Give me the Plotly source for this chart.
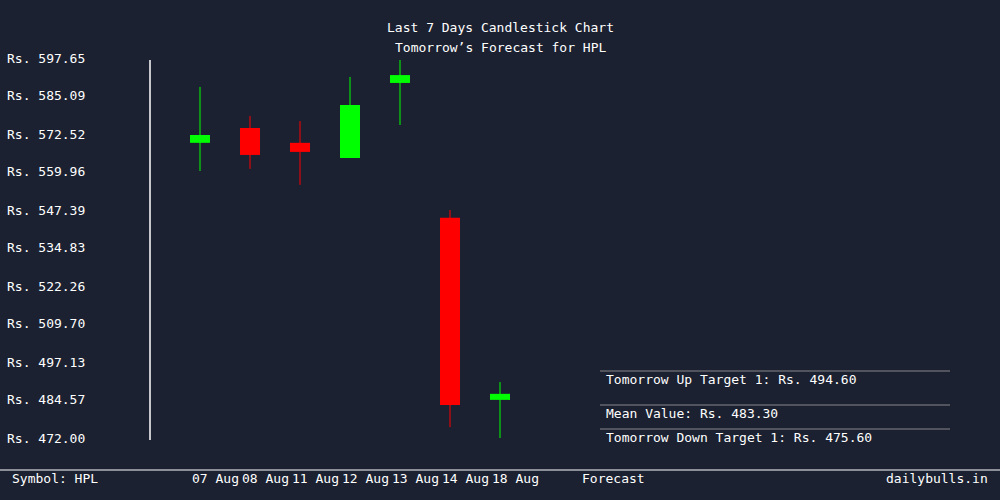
import plotly.graph_objects as go

# candle data
dates = ["07 Aug", "08 Aug", "11 Aug", "12 Aug", "13 Aug", "14 Aug", "18 Aug"]
opens = [569.6, 574.5, 569.6, 564.6, 589.4, 544.8, 484.6]
closes = [572.2, 565.6, 566.6, 582.1, 592.0, 482.9, 486.6]
highs = [588.1, 578.5, 576.8, 591.4, 597.0, 547.4, 490.5]
lows = [560.3, 561.0, 555.7, 564.6, 575.5, 475.6, 471.3]
ytick_vals = [472.00, 484.57, 497.13, 509.70, 522.26, 534.83, 547.39, 559.96, 572.52, 585.09, 597.65]
forecast_lines = ["Tomorrow Up Target 1: Rs. 494.60", "Mean Value: Rs. 483.30", "Tomorrow Down Target 1: Rs. 475.60"]

BG = "#1b2130"
GREEN = "#00ff00"
RED = "#ff0000"
FONT = "DejaVu Sans Mono"
FS = 13

W, H = 1000, 500
L, T, B = 150, 58, 62
PW, PH = W - L, H - T - B


def px(x):
    return (x - L) / PW


def py(y):
    return (H - B - y) / PH


fig = go.Figure()
xs = list(range(len(dates)))
colors = [GREEN if c >= o else RED for o, c in zip(opens, closes)]

for i in xs:
    fig.add_trace(go.Scatter(x=[i, i], y=[lows[i], highs[i]], mode="lines",
                             line=dict(color=colors[i], width=1), hoverinfo="skip"))
fig.add_trace(go.Bar(x=xs, base=[min(o, c) for o, c in zip(opens, closes)],
                     y=[abs(c - o) for o, c in zip(opens, closes)],
                     width=0.4, marker=dict(color=colors, line=dict(width=0))))

anns = []
for v in ytick_vals:
    anns.append(dict(x=px(5), xref="paper", y=v, yref="y", text=f"Rs. {v:.2f}",
                     xanchor="left", showarrow=False, font=dict(size=FS)))
for i, d in enumerate(dates):
    anns.append(dict(x=i - 0.2, xref="x", y=py(488), yref="paper", text=d,
                     xanchor="left", showarrow=False, font=dict(size=FS)))
anns.append(dict(x=px(10), xref="paper", y=py(488), yref="paper", text="Symbol: HPL",
                 xanchor="left", showarrow=False, font=dict(size=FS)))
anns.append(dict(x=px(580), xref="paper", y=py(488), yref="paper", text="Forecast",
                 xanchor="left", showarrow=False, font=dict(size=FS)))
anns.append(dict(x=px(990), xref="paper", y=py(488), yref="paper", text="dailybulls.in",
                 xanchor="right", showarrow=False, font=dict(size=FS)))
for txt, yy in zip(forecast_lines, [389, 423, 447]):
    anns.append(dict(x=px(604), xref="paper", y=py(yy), yref="paper", text=txt,
                     xanchor="left", showarrow=False, font=dict(size=FS)))
anns.append(dict(x=px(500), xref="paper", y=py(18), yref="paper",
                 text="Last 7 Days Candlestick Chart", showarrow=False, font=dict(size=FS)))
anns.append(dict(x=px(500), xref="paper", y=py(38), yref="paper",
                 text="Tomorrow’s Forecast for HPL", showarrow=False, font=dict(size=FS)))

shapes = [dict(type="line", xref="paper", yref="paper", x0=px(0), x1=px(1000),
               y0=py(470), y1=py(470), line=dict(color="white", width=1))]
for yy in [371, 405, 429]:
    shapes.append(dict(type="line", xref="paper", yref="paper", x0=px(600), x1=px(950),
                       y0=py(yy), y1=py(yy), line=dict(color="#888888", width=1)))
shapes.append(dict(type="line", xref="paper", yref="paper", x0=0, x1=0,
                   y0=py(440), y1=py(60), line=dict(color="white", width=1.5)))

fig.update_layout(
    width=W, height=H, margin=dict(l=L, r=0, t=T, b=B),
    paper_bgcolor=BG, plot_bgcolor=BG, showlegend=False,
    font=dict(family=FONT, color="white", size=FS),
    xaxis=dict(range=[-1, 16], visible=False, fixedrange=True),
    yaxis=dict(range=[472, 597.65], visible=False, fixedrange=True),
    annotations=anns, shapes=shapes,
)
fig.write_html("out.html", config={"displayModeBar": False},
               post_script="document.body.style.margin='0';document.body.style.background='%s';" % BG)
